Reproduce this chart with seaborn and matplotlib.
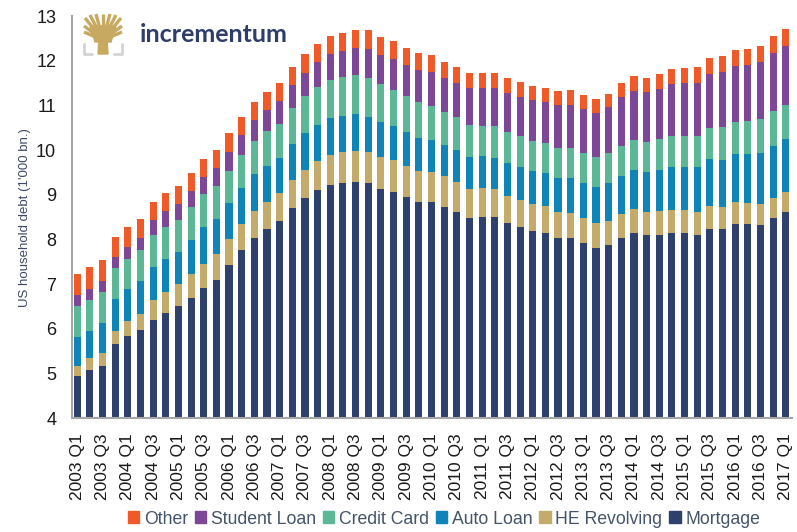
import numpy as np
import pandas as pd
import matplotlib
matplotlib.use("Agg")
import matplotlib.pyplot as plt
import seaborn as sns
from matplotlib.patches import Rectangle, Polygon

quarters = [f"{y} Q{q}" for y in range(2003, 2018) for q in range(1, 5)][:57]

mortgage = [4.94, 5.08, 5.18, 5.66, 5.84, 5.97, 6.21, 6.36, 6.51, 6.70, 6.91, 7.10,
            7.44, 7.76, 8.04, 8.23, 8.42, 8.71, 8.93, 9.10, 9.23, 9.27, 9.29, 9.26,
            9.14, 9.06, 8.94, 8.83, 8.83, 8.72, 8.62, 8.47, 8.51, 8.50, 8.36, 8.28,
            8.18, 8.15, 8.03, 8.03, 7.93, 7.82, 7.88, 8.03, 8.15, 8.09, 8.11, 8.15,
            8.15, 8.10, 8.24, 8.23, 8.35, 8.34, 8.33, 8.47, 8.61]
he_revolving = [0.24, 0.26, 0.27, 0.30, 0.33, 0.37, 0.43, 0.47, 0.49, 0.53, 0.54, 0.57,
                0.58, 0.59, 0.60, 0.60, 0.61, 0.62, 0.63, 0.65, 0.67, 0.68, 0.69, 0.70,
                0.71, 0.71, 0.71, 0.71, 0.69, 0.69, 0.67, 0.66, 0.64, 0.63, 0.62, 0.61,
                0.61, 0.59, 0.58, 0.56, 0.55, 0.55, 0.54, 0.53, 0.53, 0.53, 0.52, 0.51,
                0.51, 0.51, 0.50, 0.49, 0.49, 0.48, 0.47, 0.46, 0.45]
auto_loan = [0.64, 0.62, 0.68, 0.70, 0.72, 0.74, 0.75, 0.73, 0.73, 0.77, 0.83, 0.79,
             0.79, 0.80, 0.82, 0.82, 0.79, 0.81, 0.82, 0.82, 0.81, 0.81, 0.82, 0.79,
             0.78, 0.76, 0.75, 0.74, 0.71, 0.70, 0.71, 0.71, 0.71, 0.70, 0.73, 0.73,
             0.74, 0.75, 0.77, 0.78, 0.79, 0.81, 0.84, 0.86, 0.88, 0.88, 0.93, 0.96,
             0.97, 1.01, 1.05, 1.06, 1.07, 1.10, 1.14, 1.16, 1.18]
credit_card = [0.70, 0.69, 0.69, 0.70, 0.68, 0.69, 0.71, 0.72, 0.71, 0.72, 0.73, 0.74,
               0.72, 0.74, 0.75, 0.77, 0.76, 0.80, 0.82, 0.84, 0.85, 0.87, 0.87, 0.87,
               0.84, 0.82, 0.81, 0.80, 0.76, 0.74, 0.73, 0.73, 0.69, 0.71, 0.70, 0.70,
               0.68, 0.67, 0.67, 0.68, 0.66, 0.67, 0.67, 0.68, 0.66, 0.68, 0.68, 0.70,
               0.68, 0.70, 0.71, 0.73, 0.71, 0.73, 0.75, 0.78, 0.77]
student_loan = [0.24, 0.24, 0.25, 0.25, 0.26, 0.26, 0.33, 0.35, 0.36, 0.37, 0.38, 0.39,
                0.43, 0.44, 0.46, 0.48, 0.51, 0.51, 0.53, 0.55, 0.58, 0.58, 0.61, 0.64,
                0.66, 0.68, 0.69, 0.72, 0.76, 0.76, 0.78, 0.81, 0.84, 0.84, 0.87, 0.87,
                0.90, 0.91, 0.96, 0.97, 0.99, 0.99, 1.03, 1.08, 1.11, 1.11, 1.13, 1.16,
                1.19, 1.19, 1.20, 1.23, 1.26, 1.26, 1.28, 1.31, 1.33]
other = [0.47, 0.49, 0.48, 0.45, 0.45, 0.42, 0.41, 0.42, 0.39, 0.40, 0.41, 0.42,
         0.42, 0.42, 0.41, 0.41, 0.42, 0.41, 0.41, 0.41, 0.42, 0.41, 0.41, 0.42,
         0.41, 0.40, 0.38, 0.38, 0.37, 0.35, 0.36, 0.35, 0.34, 0.34, 0.33, 0.33,
         0.32, 0.31, 0.31, 0.32, 0.31, 0.30, 0.30, 0.32, 0.32, 0.33, 0.33, 0.34,
         0.34, 0.34, 0.35, 0.36, 0.36, 0.36, 0.37, 0.38, 0.37]

series_names = ["Mortgage", "HE Revolving", "Auto Loan", "Credit Card", "Student Loan", "Other"]
series_values = [mortgage, he_revolving, auto_loan, credit_card, student_loan, other]
colors = {"Mortgage": "#2e416c", "HE Revolving": "#c4aa6b", "Auto Loan": "#0f84b6",
          "Credit Card": "#5bb795", "Student Loan": "#7d4797", "Other": "#f05a28"}

df = pd.DataFrame({name: vals for name, vals in zip(series_names, series_values)})
df["Quarter"] = quarters
cum = df[series_names].cumsum(axis=1)

sns.set_theme(style="white")
plt.rcParams["font.family"] = ["Liberation Sans", "DejaVu Sans"]

fig = plt.figure(figsize=(7.97, 5.32), dpi=100)
ax = fig.add_axes([71.5 / 797, 1 - 418.3 / 532, 720 / 797, (418.3 - 16) / 532])

# draw stacked bars: largest cumulative first
for name in reversed(series_names):
    sns.barplot(x=df["Quarter"], y=cum[name], color=colors[name], width=0.56,
                linewidth=0, saturation=1, ax=ax, order=quarters)

ax.set_ylim(4, 13)
ax.set_xlim(-0.45, 56.45)
ax.set_yticks(range(4, 14))
ax.set_yticklabels([str(v) for v in range(4, 14)], fontsize=13, color="#1a1a1a")
ax.set_xticks(range(0, 57, 2))
ax.set_xticklabels(quarters[::2], rotation=90, fontsize=12.5, color="#1a1a1a")
ax.tick_params(axis="x", length=0, pad=11)
ax.tick_params(axis="y", length=0, pad=11)
ax.set_xlabel("")
ax.set_ylabel("US household debt (1'000 bn.)", fontsize=9.5, color="#3a4a66", labelpad=4)
for s in ["top", "right"]:
    ax.spines[s].set_visible(False)
for s in ["left", "bottom"]:
    ax.spines[s].set_color("#a6a6a6")
    ax.spines[s].set_linewidth(1.5)

# legend
handles = [Rectangle((0, 0), 1, 1, color=colors[n]) for n in reversed(series_names)]
fig.legend(handles, list(reversed(series_names)), loc="center", ncol=6,
           bbox_to_anchor=(444 / 797, 1 - 519 / 532), frameon=False, fontsize=12.7,
           handlelength=0.65, handleheight=0.65, handletextpad=0.25, columnspacing=0.4,
           labelcolor="#44546a", borderaxespad=0)

# logo
lax = fig.add_axes([80 / 797, 1 - 56 / 532, 46 / 797, 44 / 532])
lax.set_xlim(0, 46)
lax.set_ylim(0, 44)
lax.axis("off")
gold = "#c8a961"
lax.add_patch(Polygon([[18, 2], [28, 2], [27, 18], [19, 18]], color=gold))
for dx, top in [(-18, 38), (-13, 41), (-7, 42), (0, 42), (7, 42), (13, 41), (18, 38),
                (-19, 30), (19, 30), (-19, 24), (19, 24)]:
    lax.plot([23, 23 + dx], [16, top], color=gold, lw=2.4, solid_capstyle="butt")
lax.add_patch(Polygon([[15, 14], [31, 14], [36, 30], [10, 30]], color=gold))
lax.plot([4, 4, 12], [12, 2, 2], color="#d4d4d4", lw=2)
lax.plot([34, 42, 42], [2, 2, 12], color="#d4d4d4", lw=2)
fig.text(140 / 797, 1 - 34 / 532, "incrementum", fontsize=18, fontweight="bold",
         family=["Lato", "DejaVu Sans"], color="#2f3d6b", va="center", ha="left")

fig.savefig("out.png", dpi=100)
